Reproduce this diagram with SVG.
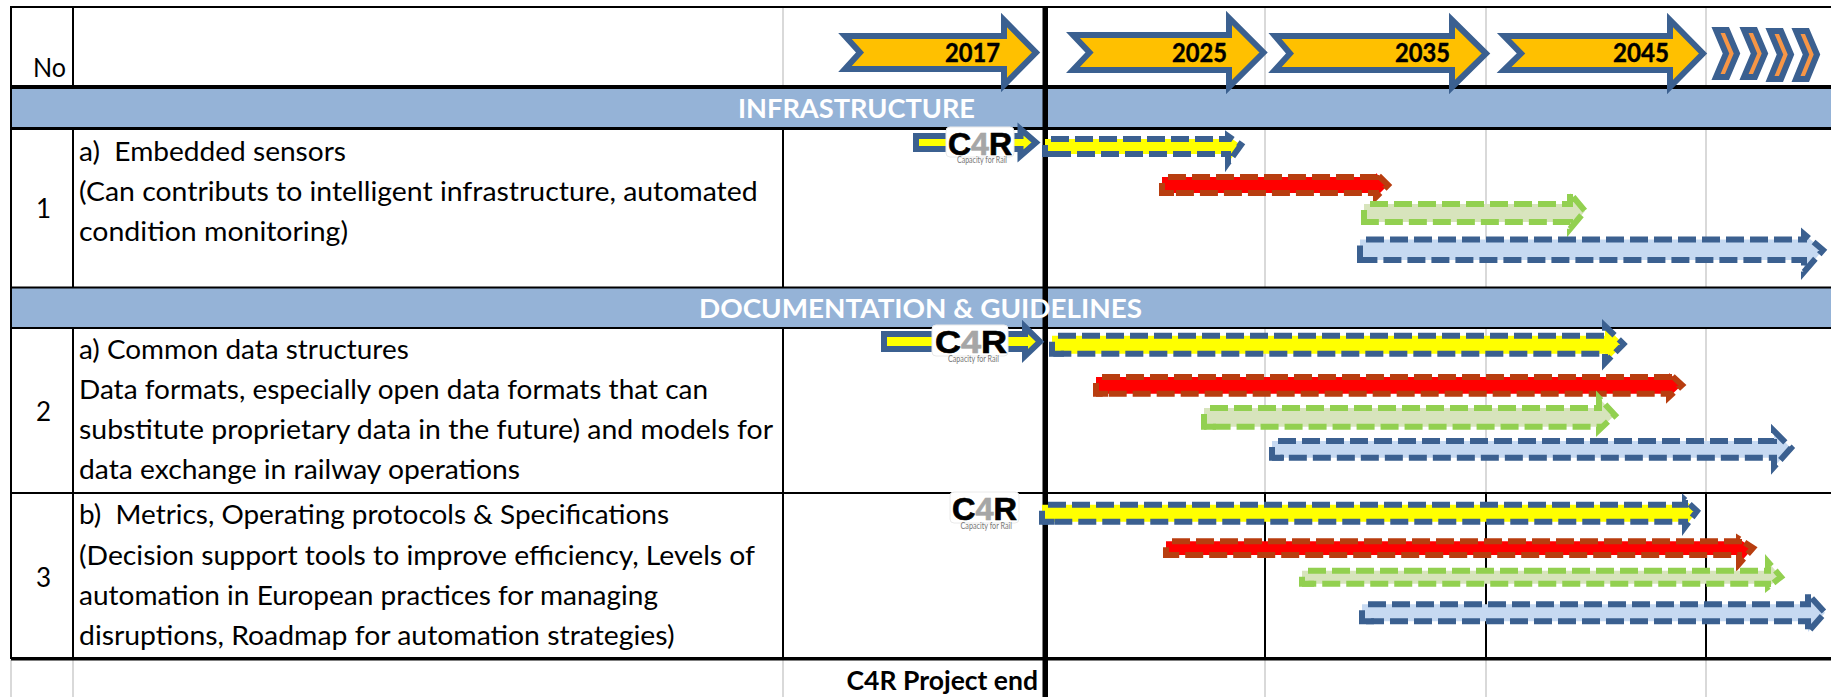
<svg xmlns="http://www.w3.org/2000/svg" width="1831" height="697" viewBox="0 0 1831 697">
<style>
text{font-family:Lato,"Liberation Sans",sans-serif;white-space:pre;fill:#000}
.t{font-size:26.500px}
.n{font-size:26px;text-anchor:middle}
.yr{font-size:26px;font-weight:700;stroke:#000;stroke-width:.4}
.band{font-size:27px;font-weight:700;fill:#fff}
.k{stroke:#000;stroke-width:2;fill:none}
.g{stroke:#D9D9D9;stroke-width:2;fill:none}
.year{fill:#FFC000;stroke:#3B6090;stroke-width:6;stroke-miterlimit:10}
.chev{fill:#F79646;stroke:#3B6090;stroke-width:6;stroke-miterlimit:10}
.now{fill:#FFFF00;stroke:#3B6090;stroke-width:6;stroke-miterlimit:10}
.d{stroke-width:6;stroke-dasharray:18 6;stroke-dashoffset:18;stroke-miterlimit:10}
.tick{fill:none;stroke-width:6;stroke-miterlimit:10}
.dy{fill:#FFFF00;stroke:#3B6090}
.dr{fill:#FF0000;stroke:#B83D0F}
.dg{fill:#D7E4BC;stroke:#92D050}
.db{fill:#C6D9F1;stroke:#3B6090}
.lr{fill:#fff;stroke:#EAEAEA;stroke-width:1}
.c4r{font-family:"Liberation Sans",sans-serif;font-size:32px;font-weight:700;stroke:#000;stroke-width:.7}
.c4r tspan{fill:#A6A6A6;stroke:#A6A6A6}
.cap{font-size:8.500px;fill:#777}
</style>
<g id="grid">
<rect x="11" y="89" width="1820" height="38" fill="#95B3D7"/>
<rect x="11" y="288" width="1820" height="39" fill="#95B3D7"/>
<path class="g" d="M783 8V85M1265 8V85M1486 8V85M1706 8V85M1265 130V287M1486 130V287M1706 130V287M1265 328V493M1486 328V493M1706 328V493M11 660V697M73 660V697M783 660V697M1265 660V697M1486 660V697M1706 660V697"/>
<path class="k" d="M11 7H1831M11 287.500H1831M11 493H1831M11 6V659M73 7V85M73 130V287M73 328V658M783 130V287M783 328V658M1265 493V658M1486 493V658M1706 493V658"/>
<rect x="11" y="85" width="1820" height="4"/>
<rect x="11" y="127" width="1820" height="3"/>
<rect x="11" y="327" width="1820" height="2"/>
<rect x="11" y="657" width="1820" height="3.500"/>
<rect x="1042.500" y="7" width="5.500" height="690"/>
</g>
<g id="header">
<text class="t" x="33" y="76.700" textLength="33" lengthAdjust="spacingAndGlyphs">No</text>
<path class="year" d="M845 36H1004V20L1036 52.500L1004 85V69H845L860 52.500Z"/>
<text class="yr" x="945" y="61.700" textLength="55" lengthAdjust="spacingAndGlyphs">2017</text>
<path class="year" d="M1073 35H1229V18L1263.500 52.500L1229 87V70H1073L1089.500 52.500Z"/>
<text class="yr" x="1172" y="61.700" textLength="55" lengthAdjust="spacingAndGlyphs">2025</text>
<path class="year" d="M1275 36H1452V20L1486 53.500L1452 87V70H1275L1290 53.500Z"/>
<text class="yr" x="1395" y="62" textLength="55" lengthAdjust="spacingAndGlyphs">2035</text>
<path class="year" d="M1504 36H1670V20L1703 53.500L1670 87V70H1504L1521 53.500Z"/>
<text class="yr" x="1613" y="62" textLength="56" lengthAdjust="spacingAndGlyphs">2045</text>
<path class="chev" d="M1716 30H1727L1737 53.500L1727 77H1716L1726 53.500Z"/>
<path class="chev" d="M1744 30H1755L1765 53.500L1755 77H1744L1754 53.500Z"/>
<path class="chev" d="M1770 31H1781L1791 54.500L1781 79H1770L1780 54.500Z"/>
<path class="chev" d="M1796 31H1807L1817 54.500L1807 79H1796L1806 54.500Z"/>
</g>
<g id="band-infrastructure"><text class="band" x="738" y="118" textLength="237" lengthAdjust="spacingAndGlyphs">INFRASTRUCTURE</text></g>
<g id="band-documentation"><text class="band" x="699" y="318" textLength="443" lengthAdjust="spacingAndGlyphs">DOCUMENTATION &amp; GUIDELINES</text></g>
<g id="row-1">
<text class="n" x="43.500" y="218">1</text>
<text class="t" x="79" y="160.700" textLength="267" lengthAdjust="spacingAndGlyphs">a)  Embedded sensors</text>
<text class="t" x="79" y="200.700" textLength="678.600" lengthAdjust="spacingAndGlyphs">(Can contributs to intelligent infrastructure, automated</text>
<text class="t" x="79" y="240.700" textLength="269" lengthAdjust="spacingAndGlyphs">condition monitoring)</text>
</g>
<g id="row-2">
<text class="n" x="43.500" y="421">2</text>
<text class="t" x="79" y="359" textLength="329.700" lengthAdjust="spacingAndGlyphs">a) Common data structures</text>
<text class="t" x="79" y="399" textLength="629" lengthAdjust="spacingAndGlyphs">Data formats, especially open data formats that can</text>
<text class="t" x="79" y="439" textLength="694" lengthAdjust="spacingAndGlyphs">substitute proprietary data in the future) and models for</text>
<text class="t" x="79" y="478.700" textLength="441" lengthAdjust="spacingAndGlyphs">data exchange in railway operations</text>
</g>
<g id="row-3">
<text class="n" x="43.500" y="586.700">3</text>
<text class="t" x="79" y="524" textLength="590" lengthAdjust="spacingAndGlyphs">b)  Metrics, Operating protocols &amp; Specifications</text>
<text class="t" x="79" y="565" textLength="676" lengthAdjust="spacingAndGlyphs">(Decision support tools to improve efficiency, Levels of</text>
<text class="t" x="79" y="605" textLength="579" lengthAdjust="spacingAndGlyphs">automation in European practices for managing</text>
<text class="t" x="79" y="644.700" textLength="595.500" lengthAdjust="spacingAndGlyphs">disruptions, Roadmap for automation strategies)</text>
</g>
<g id="connectors">
<path class="now" d="M916 136H1020.500V129L1036 142.500L1020.500 156V149H916Z"/>
<path class="d dy" d="M1045 139H1228V136L1241 145L1228 163V154H1045"/>
<path class="d dr" d="M1162 177H1376V173L1388 185L1376 197V193H1162"/>
<path class="d dg" d="M1364 204H1570V193L1585 211L1570 229V222H1364"/>
<path class="d db" d="M1360 239.500H1804V234L1823 250L1804 272V260H1360"/>
<path class="now" d="M884 334H1025V327L1040 341.700L1025 356V349H884Z"/>
<path class="d dy" d="M1052 335.700H1605V326L1623.500 344L1605 363V353.700H1052"/>
<path class="d dr" d="M1096 377H1669V373L1682 385L1669 397V393.700H1096"/>
<path class="d db" d="M1272 441H1774V431L1791 448L1774 467V457.700H1272"/>
<path class="d dg" d="M1204 408H1599V398L1615 415L1599 430V426.700H1204"/>
<path class="d dy" d="M1042 504.700H1685V500L1697 511L1685 527V521.700H1042"/>
<path class="d dr" d="M1166 541.300H1739V539L1753 548L1739 564V555H1166"/>
<path class="d dg" d="M1302 570.700H1768V562L1781 577L1768 587V583.700H1302"/>
<path class="d db" d="M1362 604.300H1808V594L1825 612.700L1808 632V621.300H1362"/>
<path class="tick dy" d="M1057 154H1045V145M1064 353.700H1052V341.700M1054 521.700H1042V510.700"/>
<path class="tick dr" d="M1174 193H1162V183M1108 393.700H1096V383M1178 555H1166V547.300"/>
<path class="tick dg" d="M1376 222H1364V210M1216 426.700H1204V414M1314 583.700H1302V576.700"/>
<path class="tick db" d="M1372 260H1360V245.500M1284 457.700H1272V447M1374 621.300H1362V610.300"/>
</g>
<g id="logo-1">
<rect class="lr" x="946" y="127" width="68" height="30" rx="4"/>
<text class="c4r" x="948" y="155" textLength="64" lengthAdjust="spacingAndGlyphs">C<tspan>4</tspan>R</text>
<text class="cap" x="957" y="163" textLength="50" lengthAdjust="spacingAndGlyphs">Capacity for Rail</text>
</g>
<g id="logo-2">
<rect class="lr" x="932" y="325" width="76" height="31" rx="4"/>
<text class="c4r" x="935" y="353" textLength="72" lengthAdjust="spacingAndGlyphs">C<tspan>4</tspan>R</text>
<text class="cap" x="948" y="362" textLength="51" lengthAdjust="spacingAndGlyphs">Capacity for Rail</text>
</g>
<g id="logo-3">
<rect class="lr" x="950" y="492" width="69" height="31" rx="4"/>
<text class="c4r" x="952" y="520" textLength="65" lengthAdjust="spacingAndGlyphs">C<tspan>4</tspan>R</text>
<text class="cap" x="960.500" y="529" textLength="51.500" lengthAdjust="spacingAndGlyphs">Capacity for Rail</text>
</g>
<g id="project-end"><text x="846.600" y="690" font-size="27" font-weight="700" textLength="191.400" lengthAdjust="spacingAndGlyphs">C4R Project end</text></g>
</svg>
